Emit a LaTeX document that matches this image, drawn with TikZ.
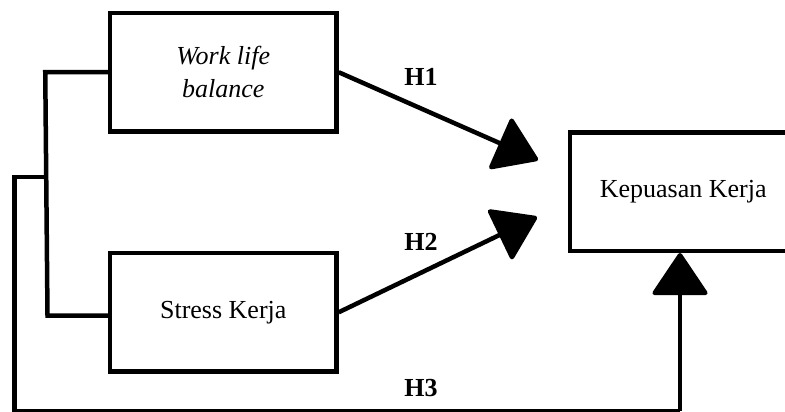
\documentclass[tikz,border=0pt]{standalone}
\usepackage{fontspec}
\setmainfont{Liberation Serif}
\usetikzlibrary{arrows.meta}
\begin{document}
\begin{tikzpicture}[x=1pt,y=-1pt,
  varbox/.style={draw=black,line width=4.5pt,minimum width=226.5pt,minimum height=118.5pt,inner sep=0pt,align=center,font=\fontsize{26}{33}\selectfont},
  conn/.style={line width=4.5pt,line join=miter},
  bigarrow/.style={conn,-{Triangle[length=44pt,width=58pt,round]}},
  hlabel/.style={font=\fontsize{26}{30}\selectfont\bfseries}]
\useasboundingbox (0,0) rectangle (785,412);
\node[varbox] (wlb) at (223.25,72.25) {\itshape Work life\\\itshape balance};
\node[varbox] (sk) at (223.25,312.25) {Stress Kerja};
\node[varbox] (kk) at (683.25,191.5) {Kepuasan Kerja};
\coordinate (t1) at (538,160);
\coordinate (t2) at (537,217);
\coordinate (j) at (47.5,177);
\coordinate (c1) at (14.5,411);
\coordinate (c2) at (680,411);
\draw[bigarrow] (wlb.east) -- (t1);
\draw[bigarrow] (sk.east) -- (t2);
\draw[conn] (wlb.west) -- ++(-62.5,0) -- (47.5,315.5) -- (sk.west |- 0,315.5);
\draw[conn] (j) -| (c1) -- (c2);
\draw[bigarrow] (c2) -- (c2 |- kk.south);
\node[hlabel] (h1) at (421,77) {H1};
\node[hlabel] (h2) at (421,242) {H2};
\node[hlabel] (h3) at (421,388) {H3};
\end{tikzpicture}
\end{document}
